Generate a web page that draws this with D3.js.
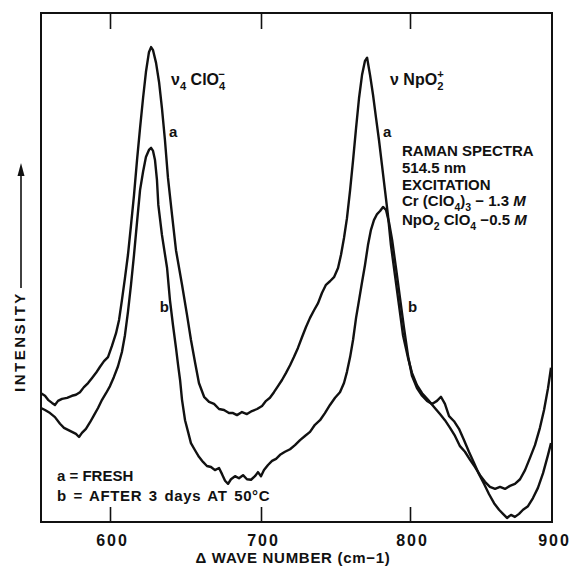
<!DOCTYPE html>
<html><head><meta charset="utf-8">
<script src="https://cdn.jsdelivr.net/npm/d3@7"></script>
<style>
body{margin:0;background:#fff}
svg{display:block}
text{font-family:"Liberation Sans",Arial,sans-serif;font-weight:bold;fill:#111}
</style>
</head><body>
<svg id="chart" width="572" height="566"></svg>
<script>
// ---- data ----
const tickValues = [600, 700, 800, 900];
const tickLabels = ["600", "700", "800", "900"];
const xTitle = "\u0394 WAVE NUMBER (cm\u22121)";
const yTitle = "INTENSITY";

// curve a = FRESH (wave number cm-1, intensity arbitrary units)
const waveA = [555,557.6,559.6,562.2,564.1,566.1,568.7,572.0,575.2,577.8,
580.4,583.0,585.7,588.3,590.9,593.5,596.1,598.7,601.3,604.0,
606.0,607.9,609.9,611.9,613.9,615.9,617.9,619.9,621.9,623.8,
625.8,627.2,628.5,630.5,632.5,634.4,636.4,638.4,641.1,643.7,
647.7,651.0,653.6,656.3,658.9,662.3,665.6,668.9,672.2,675.5,
678.8,681.5,684.1,687.4,690.7,694.0,697.4,700.7,703.4,706.0,
708.7,711.4,714.1,716.8,719.5,722.1,724.8,727.5,730.2,732.9,
735.6,738.3,740.9,743.6,746.3,749.0,751.7,753.7,755.7,757.7,
759.8,761.8,763.8,765.8,767.8,769.8,771.2,773.2,775.2,777.2,
779.2,781.2,783.2,785.2,787.2,789.9,792.6,795.3,798.7,801.4,
804.9,808.5,812.7,816.9,821.1,824.6,828.2,831.7,835.2,838.7,
842.3,845.8,849.3,852.8,856.3,859.9,863.4,866.9,870.4,873.9,
877.5,881.0,884.5,888.0,891.5,894.4,897.2,899.3];
const intensityA = [25.3,24.8,24.0,23.4,23.0,23.8,24.2,24.4,24.8,25.0,
25.5,26.5,27.3,28.3,29.3,30.5,31.6,32.4,34.6,37.1,
39.7,43.6,47.9,52.5,58.3,64.2,71.1,77.4,83.3,88.4,
92.3,93.3,92.7,90.2,86.4,81.3,75.0,67.6,60.3,53.4,
46.6,40.7,35.8,31.4,27.3,24.6,23.6,23.2,22.2,22.0,
21.4,21.4,21.0,21.6,21.2,21.8,22.2,22.8,23.8,24.4,
25.5,26.7,27.9,29.3,30.8,32.4,34.2,36.3,38.3,40.1,
41.6,43.0,45.0,46.6,47.3,48.1,49.9,52.5,55.8,59.7,
65.2,71.1,77.4,83.3,87.8,90.6,91.2,87.8,83.9,79.4,
75.0,70.1,65.2,60.3,54.4,48.5,42.6,36.7,32.2,29.3,
26.9,25.3,24.0,22.6,21.2,20.0,18.5,16.9,14.9,13.8,
12.2,10.8,9.2,7.9,6.9,6.5,6.9,6.5,7.1,7.5,
8.4,10.2,12.6,15.1,18.5,22.0,26.3,30.3];

// curve b = AFTER 3 days AT 50°C
const waveB = [555,557.6,560.9,564.1,567.4,570.0,572.6,575.2,577.8,579.8,
581.7,584.3,587.0,589.6,592.2,594.8,597.4,600.0,602.6,605.3,
607.9,609.9,611.9,613.9,615.9,617.9,619.9,621.9,623.8,625.8,
627.2,628.5,629.8,631.1,632.0,634.4,637.8,639.7,641.7,643.7,
645.1,646.4,647.7,649.7,651.7,653.6,656.3,658.9,661.6,664.2,
666.9,669.5,672.2,674.2,676.2,678.2,680.1,682.8,685.4,688.1,
690.7,693.4,696.0,698.0,700.0,702.0,704.7,707.4,710.1,712.8,
716.1,719.5,722.8,726.2,729.5,732.9,736.2,739.6,742.9,746.3,
749.7,753.0,755.7,757.7,759.8,761.8,763.8,765.8,767.8,769.8,
771.8,773.8,775.8,777.9,779.9,781.9,783.9,785.9,788.0,790.6,
793.3,796.0,798.7,801.4,804.9,808.5,812.0,815.5,819.0,821.8,
824.6,827.5,831.0,834.5,838.0,841.5,845.1,848.6,852.1,855.6,
859.2,862.7,865.5,868.3,871.1,873.9,876.8,879.6,883.1,886.6,
890.1,893.7,897.2,899.3];
const intensityB = [22.4,22.0,21.4,20.6,19.3,18.5,18.1,17.7,17.3,16.7,
17.5,18.3,19.6,21.0,22.4,24.0,25.3,26.7,28.5,30.6,
33.4,36.7,41.3,46.6,52.5,58.9,65.2,68.8,71.7,73.1,
73.5,72.9,71.1,67.2,62.3,56.4,49.9,43.6,38.7,34.2,
30.8,27.9,24.0,20.0,17.7,15.5,14.1,12.8,11.8,11.0,
10.8,10.2,10.6,9.4,8.1,7.5,8.4,9.0,8.6,9.2,
8.4,8.3,9.0,9.8,9.0,10.2,11.2,12.0,12.4,13.2,
13.8,14.3,15.1,16.1,16.9,17.7,19.1,20.0,21.4,23.0,
24.4,25.5,27.3,29.5,32.4,35.8,40.1,43.6,47.1,50.5,
54.4,57.4,59.3,60.5,61.1,61.9,61.3,58.9,55.4,49.9,
44.0,38.1,32.6,28.7,26.3,24.8,23.8,23.2,23.8,24.6,
23.2,20.8,19.8,18.3,16.1,13.8,11.6,9.4,7.5,5.5,
3.7,2.4,1.6,0.8,1.4,1.0,1.6,2.4,3.1,4.7,
6.7,9.6,13.2,15.5];

// curve label anchors (wave number, intensity)
const curveLabels = [
  {t:"a", wn:639.1, I:75.6},
  {t:"a", wn:781.9, I:75.6},
  {t:"b", wn:632.9, I:41.3},
  {t:"b", wn:798.7, I:41.3}
];

// ---- drawing ----
const svg = d3.select("#chart");
const L = 41, R = 552, T = 13, B = 522;
// hand-ruled abscissa of the original figure
const x = d3.scaleLinear().domain([555, 600, 700, 800, 900]).range([L, 110, 261, 410, R]);
const y = d3.scaleLinear().domain([0, 100]).range([B, T]);

// frame
svg.append("rect").attr("x", L).attr("y", T).attr("width", R - L).attr("height", B - T)
  .attr("fill", "none").attr("stroke", "#111").attr("stroke-width", 2);

// bottom axis
const xb = svg.append("g").attr("transform", `translate(0,${B})`)
  .call(d3.axisBottom(x).tickValues(tickValues).tickSizeInner(-15).tickSizeOuter(0)
    .tickPadding(13).tickFormat((d, i) => tickLabels[i]));
xb.select(".domain").remove();
xb.selectAll(".tick line").attr("stroke", "#111").attr("stroke-width", 1.6)
  .filter(d => d === 900).remove();
xb.selectAll(".tick text").attr("fill", "#111").style("font-size", "16px")
  .style("font-family", '"Liberation Sans",Arial,sans-serif').style("font-weight", "bold")
  .style("letter-spacing", "2px").attr("dx", "2");

// top axis ticks
const xt = svg.append("g").attr("transform", `translate(0,${T})`)
  .call(d3.axisTop(x).tickValues(tickValues.slice(0, 3)).tickSizeInner(-16).tickSizeOuter(0).tickFormat(""));
xt.select(".domain").remove();
xt.selectAll(".tick line").attr("stroke", "#111").attr("stroke-width", 1.6);

// curves
const line = d3.line().x(d => x(d[0])).y(d => y(d[1]));
const dataA = waveA.map((w, i) => [w, intensityA[i]]);
const dataB = waveB.map((w, i) => [w, intensityB[i]]);
[dataA, dataB].forEach(d => {
  svg.append("path").datum(d).attr("d", line).attr("fill", "none")
    .attr("stroke", "#111").attr("stroke-width", 2.4).attr("stroke-linejoin", "round");
});

// curve labels
curveLabels.forEach(c => {
  svg.append("text").attr("x", x(c.wn)).attr("y", y(c.I)).text(c.t).style("font-size", "15px");
});

// rich text helper
function rich(xp, yp, parts, fs) {
  const t = svg.append("text").attr("x", xp).attr("y", yp).style("font-size", fs + "px");
  parts.forEach(p => {
    const [s, k, dx] = p;
    const ts = t.append("tspan").text(s);
    if (k === "sub") ts.attr("y", yp + fs * 0.3).style("font-size", fs * 0.7 + "px");
    else if (k === "sup") ts.attr("y", yp - fs * 0.45).style("font-size", fs * 0.7 + "px");
    else ts.attr("y", yp);
    if (k === "it") ts.style("font-style", "italic");
    if (dx) ts.attr("dx", dx);
  });
  return t;
}

// peak annotations
rich(171, 85, [["\u03bd", ""], ["4", "sub"], [" ClO", ""], ["4", "sub"], ["\u2212", "sup", -7]], 16);
rich(390, 85, [["\u03bd ", ""], ["NpO", ""], ["2", "sub"], ["+", "sup", -6]], 16);

// conditions block
rich(402, 156, [["RAMAN SPECTRA", ""]], 15);
rich(402, 173, [["514.5 nm", ""]], 15);
rich(402, 190, [["EXCITATION", ""]], 15);
rich(402, 206, [["Cr (ClO", ""], ["4", "sub"], [")", ""], ["3", "sub"], [" \u2212 1.3 ", ""], ["M", "it"]], 15);
rich(402, 225, [["NpO", ""], ["2", "sub"], [" ClO", ""], ["4", "sub"], [" \u22120.5 ", ""], ["M", "it"]], 15);

// legend
svg.append("text").attr("x", 57).attr("y", 481).style("font-size", "15px").text("a = FRESH");
svg.append("text").attr("x", 57).attr("y", 501).style("font-size", "15px")
  .style("word-spacing", "2px").style("letter-spacing", "0.6px").text("b = AFTER 3 days AT 50\u00b0C");

// x title
svg.append("text").attr("x", 293).attr("y", 563).attr("text-anchor", "middle")
  .style("font-size", "15px").style("letter-spacing", "0.7px").text(xTitle);

// y title with arrow
svg.append("text").attr("transform", "translate(25,392) rotate(-90)")
  .style("font-size", "15px").style("letter-spacing", "2.5px").text(yTitle);
svg.append("line").attr("x1", 21).attr("x2", 21).attr("y1", 288).attr("y2", 172)
  .attr("stroke", "#111").attr("stroke-width", 1.6);
svg.append("path").attr("d", "M21,163 L17.5,176 L24.5,176 Z").attr("fill", "#111");
</script>
</body></html>
